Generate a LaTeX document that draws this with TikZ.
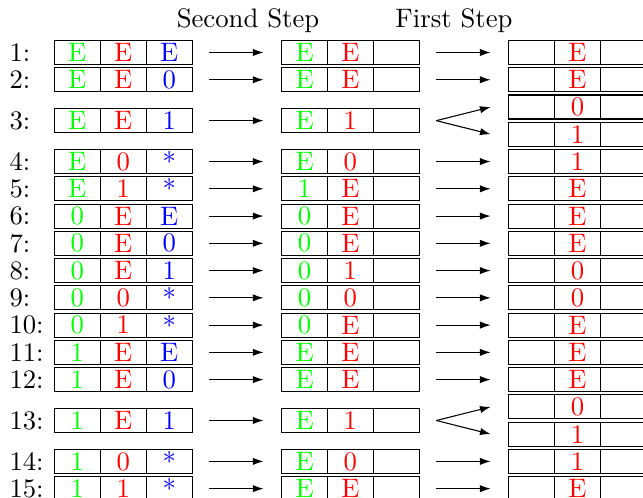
\documentclass[tikz,border=0pt]{standalone}
\usetikzlibrary{calc,arrows.meta}
\tikzset{
  cell/.style={draw, minimum width=17.23pt, minimum height=8.99pt, inner sep=0pt, outer sep=0pt},
  gcell/.style={cell, text=green},
  rcell/.style={cell, text=red},
  bcell/.style={cell, text=blue},
  lab/.style={anchor=west, inner sep=0pt},
  head/.style={anchor=base, inner sep=0pt},
  tip/.style={-{Latex[length=4pt,width=2.7pt]}},
  arr/.style={tip, shorten <=6.4pt, shorten >=6.75pt}
}
\begin{document}
\begin{tikzpicture}[x=0.3745pt,y=-0.3745pt]
\useasboundingbox (0,0) rectangle (643,498);
\node[head] (h2) at (248,28) {Second Step};
\node[head] (h1) at (454,28) {First Step};
\foreach \n/\k/\a/\b/\c/\d/\e in {1/0/E/E/E/E/E, 2/1/E/E/0/E/E, 3/2.5/E/E/1/E/1, 4/4/E/0/*/E/0, 5/5/E/1/*/1/E, 6/6/0/E/E/0/E, 7/7/0/E/0/0/E, 8/8/0/E/1/0/1, 9/9/0/0/*/0/0, 10/10/0/1/*/0/E, 11/11/1/E/E/E/E, 12/12/1/E/0/E/E, 13/13.5/1/E/1/E/1, 14/15/1/0/*/E/0, 15/16/1/1/*/E/E}{
  \pgfmathsetmacro\yy{52.5+27.26*\k}
  \node[lab] (N\n) at (9,\yy) {\n:};
  \node[gcell] (L\n-a) at (77.3,\yy) {\a};
  \node[rcell] (L\n-b) at (123.3,\yy) {\b};
  \node[bcell] (L\n-c) at (169.3,\yy) {\c};
  \node[gcell] (M\n-a) at (304.6,\yy) {\d};
  \node[rcell] (M\n-b) at (350.4,\yy) {\e};
  \node[cell] (M\n-c) at (396.2,\yy) {};
  \draw[arr] (L\n-c) -- (M\n-a);
}
\foreach \j/\v in {0/E, 1/E, 2/0, 3/1, 4/1, 5/E, 6/E, 7/E, 8/0, 9/0, 10/E, 11/E, 12/E, 13/0, 14/1, 15/1, 16/E}{
  \pgfmathsetmacro\yy{52.5+27.26*\j}
  \node[cell] (R\j-a) at (531.7,\yy) {};
  \node[rcell] (R\j-b) at (577.5,\yy) {\v};
  \node[cell] (R\j-c) at (623.3,\yy) {};
}
\foreach \n/\j in {1/0, 2/1, 4/4, 5/5, 6/6, 7/7, 8/8, 9/9, 10/10, 11/11, 12/12, 14/15, 15/16}{
  \draw[arr] (M\n-c) -- (R\j-a);
}
\foreach \n/\p/\q in {3/2/3, 13/13/14}{
  \draw[tip] ([xshift=6.4pt]M\n-c.east) -- ([xshift=-6.75pt]R\p-a.west);
  \draw[tip] ([xshift=6.4pt]M\n-c.east) -- ([xshift=-6.75pt]R\q-a.west);
}
\end{tikzpicture}
\end{document}
